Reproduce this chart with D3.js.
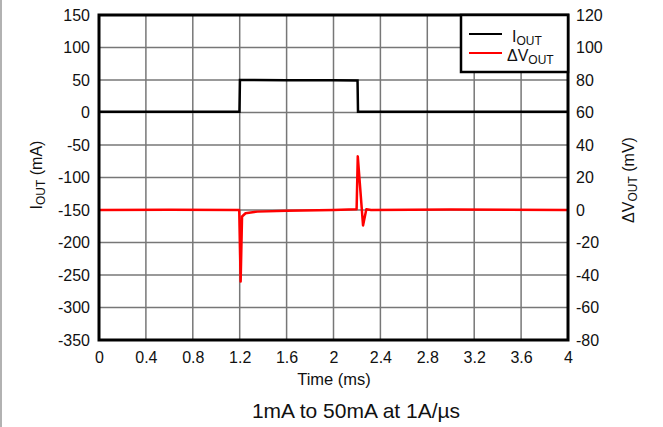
<html>
  <head>
    <meta charset="utf-8">
    <title>Load transient</title>
    <script src="https://d3js.org/d3.v7.min.js"></script>
    <style>
      body { margin: 0; background: #fff; font-family: "Liberation Sans", Arial, sans-serif; }
      svg text { fill: #111; }
    </style>
  </head>
  <body>
    <svg width="663" height="427"></svg>
    <script>
      var ioutTime = [0, 1.198, 1.202, 1.6, 2.0, 2.205, 2.209, 2.5, 4];
      var ioutVal  = [1, 1, 50, 49.8, 49.5, 49.3, 1, 1, 1];

      var dvTime = [0, 0.6, 1.196, 1.208, 1.22, 1.25, 1.35, 1.6, 2.0, 2.197, 2.207, 2.252, 2.28, 2.32, 3.0, 4];
      var dvVal  = [0, 0.2, 0, -44, -4, -2, -1, -0.5, 0, 0.5, 33, -9.5, 0.5, 0, 0.3, 0];

      var xTicks = [0, 0.4, 0.8, 1.2, 1.6, 2, 2.4, 2.8, 3.2, 3.6, 4];
      var leftTicks = [150, 100, 50, 0, -50, -100, -150, -200, -250, -300, -350];
      var rightTicks = [120, 100, 80, 60, 40, 20, 0, -20, -40, -60, -80];

      var svg = d3.select("svg");
      var L = 99, R = 568, T = 15, B = 340;

      var x = d3.scaleLinear().domain([0, 4]).range([L, R]);
      var yL = d3.scaleLinear().domain([-350, 150]).range([B, T]);
      var yR = d3.scaleLinear().domain([-80, 120]).range([B, T]);

      // page edge line
      svg.append("line").attr("x1", 1).attr("x2", 1).attr("y1", 0).attr("y2", 427)
        .attr("stroke", "#999").attr("stroke-width", 1.5);

      // grid
      var grid = svg.append("g").attr("stroke", "#777").attr("stroke-width", 1.5);
      grid.selectAll(".vg").data(xTicks).enter().append("line")
        .attr("x1", d => x(d)).attr("x2", d => x(d)).attr("y1", T).attr("y2", B);
      grid.selectAll(".hg").data(leftTicks).enter().append("line")
        .attr("x1", L).attr("x2", R).attr("y1", d => yL(d)).attr("y2", d => yL(d));

      // axes (labels only, frame drawn separately)
      var fs = "16px";
      var plain = d => String(d);
      var ax = svg.append("g").attr("transform", "translate(0," + B + ")")
        .call(d3.axisBottom(x).tickValues(xTicks).tickSize(0).tickPadding(12).tickFormat(plain));
      var ay = svg.append("g").attr("transform", "translate(" + L + ",0)")
        .call(d3.axisLeft(yL).tickValues(leftTicks).tickSize(0).tickPadding(9).tickFormat(plain));
      var ar = svg.append("g").attr("transform", "translate(" + R + ",0)")
        .call(d3.axisRight(yR).tickValues(rightTicks).tickSize(0).tickPadding(8).tickFormat(plain));
      [ax, ay, ar].forEach(function(g) {
        g.select(".domain").remove();
        g.selectAll("text").attr("font-size", fs).attr("font-family", "Liberation Sans, Arial, sans-serif").attr("fill", "#111");
      });

      // traces
      var ioutLine = d3.line().x(d => x(d[0])).y(d => yL(d[1]));
      var dvLine = d3.line().x(d => x(d[0])).y(d => yR(d[1]));
      svg.append("path").datum(d3.zip(dvTime, dvVal)).attr("d", dvLine)
        .attr("fill", "none").attr("stroke", "#f00").attr("stroke-width", 2.5).attr("stroke-linejoin", "round");
      svg.append("path").datum(d3.zip(ioutTime, ioutVal)).attr("d", ioutLine)
        .attr("fill", "none").attr("stroke", "#000").attr("stroke-width", 2.5);

      // frame
      svg.append("rect").attr("x", L).attr("y", T).attr("width", R - L).attr("height", B - T)
        .attr("fill", "none").attr("stroke", "#000").attr("stroke-width", 3);

      // legend
      var lg = svg.append("g");
      lg.append("rect").attr("x", 461).attr("y", T).attr("width", R - 461).attr("height", 57)
        .attr("fill", "#fff").attr("stroke", "#000").attr("stroke-width", 2.5);
      lg.append("line").attr("x1", 469).attr("x2", 502).attr("y1", 34).attr("y2", 34).attr("stroke", "#000").attr("stroke-width", 2);
      lg.append("line").attr("x1", 469).attr("x2", 502).attr("y1", 53).attr("y2", 53).attr("stroke", "#f00").attr("stroke-width", 2);

      function subLabel(g, xx, yy, main, sub) {
        var t = g.append("text").attr("x", xx).attr("y", yy).attr("font-size", "16px");
        t.append("tspan").text(main);
        t.append("tspan").attr("font-size", "12px").attr("dy", 3).text(sub);
        return t;
      }
      subLabel(lg, 512, 42, "I", "OUT");
      subLabel(lg, 507, 61, "\u0394V", "OUT");

      // axis titles
      function axisTitle(tx, ty, main, unit) {
        var t = svg.append("text").attr("transform", "translate(" + tx + "," + ty + ") rotate(-90)")
          .attr("text-anchor", "middle").attr("font-size", "16px");
        t.append("tspan").text(main);
        t.append("tspan").attr("font-size", "12px").attr("dy", 3).text("OUT");
        t.append("tspan").attr("dy", -3).text(" " + unit);
      }
      axisTitle(42, 175, "I", "(mA)");
      axisTitle(634, 180, "\u0394V", "(mV)");

      svg.append("text").attr("x", 334).attr("y", 385).attr("text-anchor", "middle")
        .attr("font-size", "16.5px").text("Time (ms)");
      svg.append("text").attr("x", 356).attr("y", 418).attr("text-anchor", "middle")
        .attr("font-size", "21px").text("1mA to 50mA at 1A/\u00b5s");
    </script>
  </body>
</html>
